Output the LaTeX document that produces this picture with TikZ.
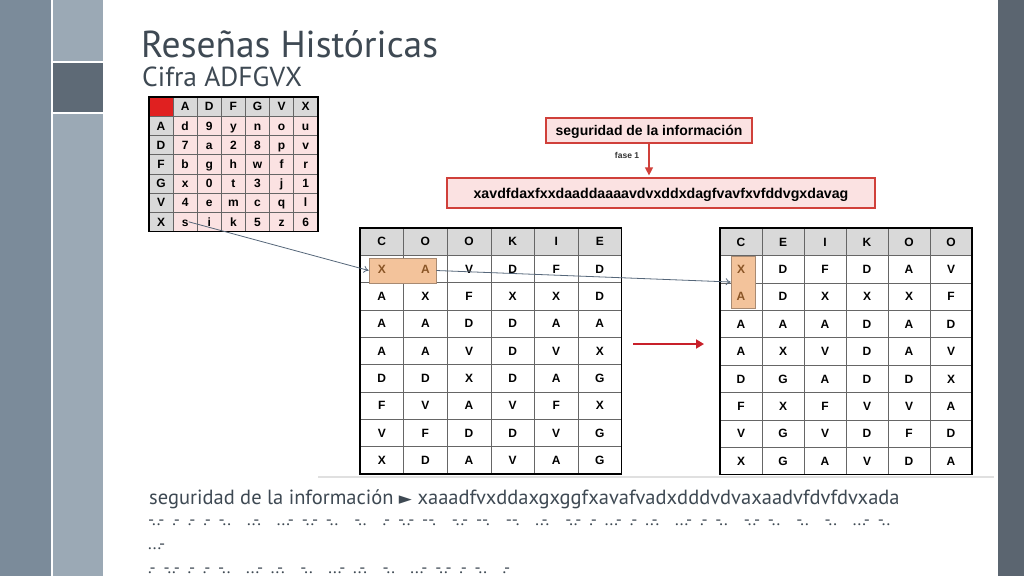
\documentclass[tikz,border=0pt]{standalone}
\usepackage{fontspec}
\setmainfont{Liberation Sans}
\newfontfamily\slidefont{PT Sans}
\newfontfamily\morsefont[Ligatures=TeXOff]{PT Sans}
\newfontfamily\symfont{DejaVu Sans}
\usetikzlibrary{arrows.meta}
\definecolor{stripA}{HTML}{7B8B9A}
\definecolor{stripB}{HTML}{9BA9B5}
\definecolor{stripC}{HTML}{5E6A76}
\definecolor{stripR}{HTML}{5B6570}
\definecolor{titlec}{HTML}{3E4953}
\definecolor{hdrc}{HTML}{D9D9D9}
\definecolor{pinkc}{HTML}{FBE2E2}
\definecolor{redc}{HTML}{E02020}
\definecolor{boxred}{HTML}{D0403A}
\definecolor{hlfill}{HTML}{F3C39B}
\definecolor{hldraw}{HTML}{A88A72}
\definecolor{hltext}{HTML}{8A5526}
\definecolor{connc}{HTML}{56677A}
\definecolor{arrred}{HTML}{C8202A}
\tikzset{
  celltxt/.style={inner sep=0pt, text height=8.6pt, text depth=0pt, font=\bfseries\fontsize{12}{12}\selectfont},
  gridline/.style={draw=gray!80!black, line width=0.6pt},
  outerline/.style={draw=black, line width=1.6pt},
  hlbox/.style={fill=hlfill, draw=hldraw, line width=0.6pt, inner sep=0pt},
  redbox/.style={fill=pinkc, draw=boxred, line width=1.2pt, inner sep=0pt, text height=10pt, text depth=0pt},
  conn/.style={draw=connc, line width=0.8pt, -{To[length=5pt,width=7pt]}},
  redarrow/.style={draw=arrred, line width=1.8pt, -{Triangle[length=8pt,width=9pt]}}
}
\begin{document}
\begin{tikzpicture}[x=1pt,y=-1pt]
\useasboundingbox (0,0) rectangle (1024,576);
\fill[white] (0,0) rectangle (1024,576);
% side strips
\fill[stripA] (0,0) rectangle (51,576);
\fill[stripB] (53,0) rectangle (103,61);
\fill[stripC] (53,63) rectangle (103,112);
\fill[stripB] (53,114) rectangle (103,576);
\fill[stripR] (998,0) rectangle (1024,576);
% title
\node[anchor=base west, inner sep=0pt, text=titlec, font=\slidefont\fontsize{37.5}{37.5}\selectfont] (title) at (141,57) {Reseñas Históricas};
\node[anchor=base west, inner sep=0pt, text=titlec, font=\slidefont\fontsize{27.5}{27.5}\selectfont] (subtitle) at (142,86) {Cifra ADFGVX};
% small ADFGVX table
\fill[pinkc] (149,97) rectangle (317.7,231.4);
\fill[hdrc] (149,97) rectangle (317.7,116.2);
\fill[hdrc] (149,97) rectangle (173.1,231.4);
\fill[redc] (149,97) rectangle (173.1,116.2);
\foreach \i in {1,...,6} {
  \draw[gridline] ({149+24.1*\i},97) -- ++(0,134.4);
  \draw[gridline] (149,{97+19.2*\i}) -- ++(168.7,0);
}
\draw[outerline] (149,97) rectangle (317.7,231.4);
\foreach \row [count=\r from 0] in {{{},A,D,F,G,V,X},{A,d,9,y,n,o,u},{D,7,a,2,8,p,v},{F,b,g,h,w,f,r},{G,x,0,t,3,j,1},{V,4,e,m,c,q,l},{X,s,i,k,5,z,6}} {
  \foreach \c [count=\k from 0] in \row {
    \node[celltxt] (t-\r-\k) at ({149+24.1*(\k+0.5)},{97+19.2*(\r+0.5)}) {\c};
  }
}
% top right boxes
\node[redbox, minimum width=206pt, minimum height=25pt, font=\bfseries\fontsize{14}{14}\selectfont] (b1) at (649,130.5) {seguridad de la información};
\node[redbox, minimum width=428pt, minimum height=30pt, font=\bfseries\fontsize{14.2}{14}\selectfont] (b2) at (661,193) {xavdfdaxfxxdaaddaaaavdvxddxdagfvavfxvfddvgxdavag};
\draw[draw=boxred, line width=1.2pt, -{Triangle[length=8pt,width=8pt]}, shorten >=2pt] (b1.south) -- node[pos=0.35, left=6pt, font=\bfseries\fontsize{8.5}{8}\selectfont, text=black!80] (fase) {fase 1} (b1.south |- b2.north);
% image bottom edge
\draw[black!12, line width=1.5pt] (318,477) -- (994,477);
% left grid
\fill[hdrc] (360,228) rectangle (621.6,255.3);
\foreach \i in {1,...,5} { \draw[gridline] ({360+43.6*\i},228) -- ++(0,245.7); }
\foreach \i in {1,...,8} { \draw[gridline] (360,{228+27.3*\i}) -- ++(261.6,0); }
\node[hlbox, minimum width=67pt, minimum height=25pt] (hlL) at (402.5,270.5) {};
\foreach \row [count=\r from 0] in {{C,O,O,K,I,E},{X,A,V,D,F,D},{A,X,F,X,X,D},{A,A,D,D,A,A},{A,A,V,D,V,X},{D,D,X,D,A,G},{F,V,A,V,F,X},{V,F,D,D,V,G},{X,D,A,V,A,G}} {
  \foreach \c [count=\k from 0] in \row {
    \def\tc{black}
    \ifnum\r=1 \ifnum\k<2 \def\tc{hltext}\fi\fi
    \node[celltxt, text=\tc] (L-\r-\k) at ({360+43.6*(\k+0.5)},{228+27.3*(\r+0.5)}) {\c};
  }
}
\draw[outerline] (360,228) rectangle (621.6,473.7);
% right grid
\fill[hdrc] (720,228) rectangle (972,255.4);
\foreach \i in {1,...,5} { \draw[gridline] ({720+42*\i},228) -- ++(0,246.6); }
\foreach \i in {1,...,8} { \draw[gridline] (720,{228+27.4*\i}) -- ++(252,0); }
\node[hlbox, minimum width=24pt, minimum height=52pt] (hlR) at (743,282) {};
\foreach \row [count=\r from 0] in {{C,E,I,K,O,O},{X,D,F,D,A,V},{A,D,X,X,X,F},{A,A,A,D,A,D},{A,X,V,D,A,V},{D,G,A,D,D,X},{F,X,F,V,V,A},{V,G,V,D,F,D},{X,G,A,V,D,A}} {
  \foreach \c [count=\k from 0] in \row {
    \def\tc{black}
    \ifnum\k=0 \ifnum\r>0 \ifnum\r<3 \def\tc{hltext}\fi\fi\fi
    \node[celltxt, text=\tc] (R-\r-\k) at ({720+42*(\k+0.5)},{228+27.4*(\r+0.5)}) {\c};
  }
}
\draw[outerline] (720,228) rectangle (972,474.6);
% connectors
\draw[conn] (t-6-1.east) -- (hlL.west);
\draw[conn] (hlL.east) -- (hlR.west);
\coordinate (ra1) at (633,344);
\coordinate (ra2) at (704,344);
\draw[redarrow] (ra1) -- (ra2);
% bottom text
\node[anchor=base west, inner sep=0pt, text=titlec, font=\slidefont\fontsize{20.5}{20.5}\selectfont] (line1) at (149,504) {seguridad de la información {\symfont\fontsize{17}{17}\selectfont ►} xaaadfvxddaxgxggfxavafvadxdddvdvaxaadvfdvfdvxada};
\node[anchor=base west, inner sep=0pt, text=titlec, font=\morsefont\fontsize{17}{17}\selectfont] (line2) at (148,525) {\makebox[742pt][s]{-..- .- .- .- -.. ..-. ...- -..- -.. -.. .- -..- --. -..- --. --. ..-. -..- .- ...- .- ..-. ...- .- -.. -..- -.. -.. -.. ...- -..}};
\node[anchor=base west, inner sep=0pt, text=titlec, font=\morsefont\fontsize{17}{17}\selectfont] (line3) at (148,549) {...-};
\node[anchor=base west, inner sep=0pt, text=titlec, font=\morsefont\fontsize{17}{17}\selectfont] (line4) at (148,573) {\makebox[362pt][s]{.- -..- .- .- -.. ...- ..-. -.. ...- ..-. -.. ...- -..- .- -.. .-}};
\end{tikzpicture}
\end{document}
